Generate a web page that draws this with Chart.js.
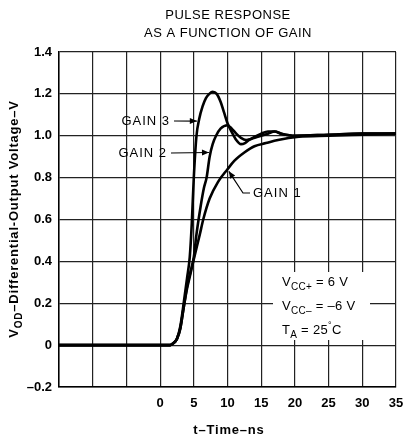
<!DOCTYPE html>
<html>
<head>
<meta charset="utf-8">
<script src="https://cdn.jsdelivr.net/npm/chart.js@4/dist/chart.umd.min.js"></script>
<style>
  body { margin: 0; background: #fff; }
</style>
</head>
<body>
<canvas id="pulseChart" width="406" height="436"></canvas>
<script>
// time axis (ns) and tick labels
var xLabels = [0, 5, 10, 15, 20, 25, 30, 35];
var yLabels = [-0.2, 0, 0.2, 0.4, 0.6, 0.8, 1.0, 1.2, 1.4];

// GAIN 3 - fastest, big overshoot
var gain3Time = [-15, 1.5, 2, 2.5, 3, 3.5, 4, 4.4, 4.7, 5, 5.4, 5.8, 6.3, 6.8, 7.3, 7.8, 8.4, 9, 9.5, 10, 10.6, 11.3, 12, 12.6, 13.2, 14, 15, 16, 17, 18, 20, 25, 30, 35];
var gain3Volts = [0, 0, 0.01, 0.03, 0.09, 0.2, 0.32, 0.42, 0.58, 0.8, 1.0, 1.08, 1.14, 1.18, 1.2, 1.21, 1.2, 1.16, 1.11, 1.06, 1.02, 0.98, 0.96, 0.965, 0.98, 0.995, 1.01, 1.02, 1.02, 1.01, 1.0, 1.005, 1.01, 1.01];

// GAIN 2 - small overshoot
var gain2Time = [-15, 1.5, 2, 2.5, 3, 3.5, 4, 4.5, 5, 5.4, 6, 6.5, 6.9, 7.35, 7.8, 8.3, 9, 10, 10.6, 11.3, 12, 12.75, 13.5, 14.5, 16, 17, 18, 20, 25, 30, 35];
var gain2Volts = [0, 0, 0.01, 0.03, 0.08, 0.18, 0.28, 0.35, 0.42, 0.53, 0.66, 0.75, 0.8, 0.9, 0.96, 1.0, 1.035, 1.05, 1.035, 1.01, 0.99, 0.98, 0.985, 0.995, 1.01, 1.02, 1.01, 1.0, 1.005, 1.01, 1.01];

// GAIN 1 - no overshoot
var gain1Time = [-15, 1.5, 2, 2.5, 3, 3.5, 4, 4.5, 5, 5.9, 6.4, 7.35, 8.6, 10, 11, 12.5, 14, 15.7, 17.5, 20.6, 25, 30, 35];
var gain1Volts = [0, 0, 0.01, 0.03, 0.08, 0.18, 0.27, 0.34, 0.41, 0.53, 0.6, 0.7, 0.78, 0.84, 0.88, 0.92, 0.95, 0.965, 0.98, 0.995, 1.0, 1.005, 1.01];

function toPoints(xs, ys) {
  return xs.map(function (x, i) { return {x: x, y: ys[i]}; });
}

var FONT = '"Liberation Sans", Arial, sans-serif';

// draws a run of text pieces, some of them as subscripts
function drawParts(ctx, x, y, parts, size, weight) {
  weight = weight || '';
  parts.forEach(function (p) {
    ctx.font = weight + ' ' + (p[1] ? (size - 3) : size) + 'px ' + FONT;
    ctx.fillText(p[0], x, y + (p[1] ? 4 : 0));
    x += ctx.measureText(p[0]).width;
  });
  return x;
}

function partsWidth(ctx, parts, size, weight) {
  var w = 0;
  parts.forEach(function (p) {
    ctx.font = weight + ' ' + (p[1] ? (size - 3) : size) + 'px ' + FONT;
    w += ctx.measureText(p[0]).width;
  });
  return w;
}

function arrow(ctx, pts) {
  ctx.beginPath();
  ctx.moveTo(pts[0][0], pts[0][1]);
  for (var i = 1; i < pts.length; i++) ctx.lineTo(pts[i][0], pts[i][1]);
  ctx.stroke();
  var a = pts[pts.length - 2], b = pts[pts.length - 1];
  var ang = Math.atan2(b[1] - a[1], b[0] - a[0]);
  ctx.beginPath();
  ctx.moveTo(b[0], b[1]);
  ctx.lineTo(b[0] - 7 * Math.cos(ang) + 3 * Math.sin(ang), b[1] - 7 * Math.sin(ang) - 3 * Math.cos(ang));
  ctx.lineTo(b[0] - 7 * Math.cos(ang) - 3 * Math.sin(ang), b[1] - 7 * Math.sin(ang) + 3 * Math.cos(ang));
  ctx.closePath();
  ctx.fill();
}

var notes = {
  id: 'notes',
  beforeDatasetsDraw: function (chart) {
    var ctx = chart.ctx;
    // white patch behind the supply conditions
    ctx.save();
    ctx.fillStyle = '#fff';
    ctx.fillRect(273, 272, 97, 68);
    ctx.restore();
  },
  afterDatasetsDraw: function (chart) {
    var ctx = chart.ctx, xs = chart.scales.x, ys = chart.scales.y;
    ctx.save();
    ctx.fillStyle = '#000';
    ctx.strokeStyle = '#000';
    ctx.lineWidth = 1.2;

    // title
    ctx.letterSpacing = '0.5px';
    ctx.font = '13px ' + FONT;
    ctx.textAlign = 'center';
    ctx.textBaseline = 'middle';
    ctx.fillText('PULSE RESPONSE', 228, 15);
    ctx.fillText('AS A FUNCTION OF GAIN', 228, 33);

    // x axis title
    ctx.letterSpacing = '0.8px';
    ctx.font = 'bold 13px ' + FONT;
    ctx.fillText('t\u2013Time\u2013ns', 229, 430);

    // y axis title, rotated, with subscript
    var yParts = [['V', false], ['OD', true], ['\u2013Differential-Output Voltage\u2013V', false]];
    var w = partsWidth(ctx, yParts, 13, 'bold');
    ctx.save();
    ctx.translate(18, 219);
    ctx.rotate(-Math.PI / 2);
    ctx.textAlign = 'left';
    ctx.textBaseline = 'alphabetic';
    drawParts(ctx, -w / 2, 0, yParts, 13, 'bold');
    ctx.restore();

    // gain labels with leaders
    ctx.letterSpacing = '1px';
    ctx.font = '13px ' + FONT;
    ctx.textBaseline = 'middle';
    ctx.textAlign = 'right';
    ctx.fillText('GAIN 3', 170, 121);
    arrow(ctx, [[174, 121], [xs.getPixelForValue(5.45), ys.getPixelForValue(1.07)]]);
    ctx.fillText('GAIN 2', 167, 153);
    arrow(ctx, [[171, 153], [xs.getPixelForValue(7.25), ys.getPixelForValue(0.92)]]);
    ctx.textAlign = 'left';
    ctx.fillText('GAIN 1', 253, 193);
    arrow(ctx, [[250, 193], [243, 193], [xs.getPixelForValue(10.2), ys.getPixelForValue(0.83)]]);

    // supply conditions
    ctx.letterSpacing = '0.3px';
    ctx.textBaseline = 'alphabetic';
    drawParts(ctx, 282, 286, [['V', false], ['CC+', true], [' = 6 V', false]], 13);
    drawParts(ctx, 282, 310, [['V', false], ['CC\u2013', true], [' = \u20136 V', false]], 13);
    var tx = drawParts(ctx, 282, 334, [['T', false], ['A', true], [' = 25', false]], 13);
    ctx.font = '9px ' + FONT;
    ctx.fillText('\u00b0', tx, 328);
    tx += ctx.measureText('\u00b0').width;
    ctx.font = '13px ' + FONT;
    ctx.fillText('C', tx, 334);
    ctx.restore();
  }
};

function series(xs, ys) {
  return {
    data: toPoints(xs, ys),
    borderColor: '#000',
    borderWidth: 2.6,
    pointRadius: 0,
    fill: false,
    cubicInterpolationMode: 'monotone'
  };
}

new Chart('pulseChart', {
  type: 'line',
  data: {
    datasets: [
      series(gain3Time, gain3Volts),
      series(gain2Time, gain2Volts),
      series(gain1Time, gain1Volts)
    ]
  },
  options: {
    responsive: false,
    animation: false,
    devicePixelRatio: 1,
    layout: {padding: {top: 52, right: 10, left: 0, bottom: 0}},
    plugins: {
      legend: {display: false},
      title: {display: false},
      tooltip: {enabled: false}
    },
    scales: {
      x: {
        type: 'linear',
        min: -15,
        max: 35,
        border: {color: '#000', width: 1.5},
        grid: {color: '#222', lineWidth: 1.2, drawTicks: false},
        ticks: {
          stepSize: 5,
          padding: 9,
          color: '#000',
          maxRotation: 0,
          font: {family: FONT, size: 13, weight: 'bold'},
          callback: function (v) { return xLabels.indexOf(v) >= 0 ? String(v) : ''; }
        },
        afterFit: function (s) { s.height = 49; s.paddingLeft = 0; s.paddingRight = 0; }
      },
      y: {
        min: -0.2,
        max: 1.4,
        border: {color: '#000', width: 1.5},
        grid: {color: '#222', lineWidth: 1.2, drawTicks: false},
        ticks: {
          stepSize: 0.2,
          padding: 7,
          color: '#000',
          font: {family: FONT, size: 13, weight: 'bold'},
          callback: function (v) {
            var r = Math.round(v * 10) / 10;
            if (yLabels.indexOf(r) < 0) return '';
            if (r === 0) return '0';
            return r < 0 ? '\u2013' + Math.abs(r).toFixed(1) : r.toFixed(1);
          }
        },
        afterFit: function (s) { s.width = 59; s.paddingTop = 0; s.paddingBottom = 0; }
      }
    }
  },
  plugins: [notes]
});
</script>
</body>
</html>
